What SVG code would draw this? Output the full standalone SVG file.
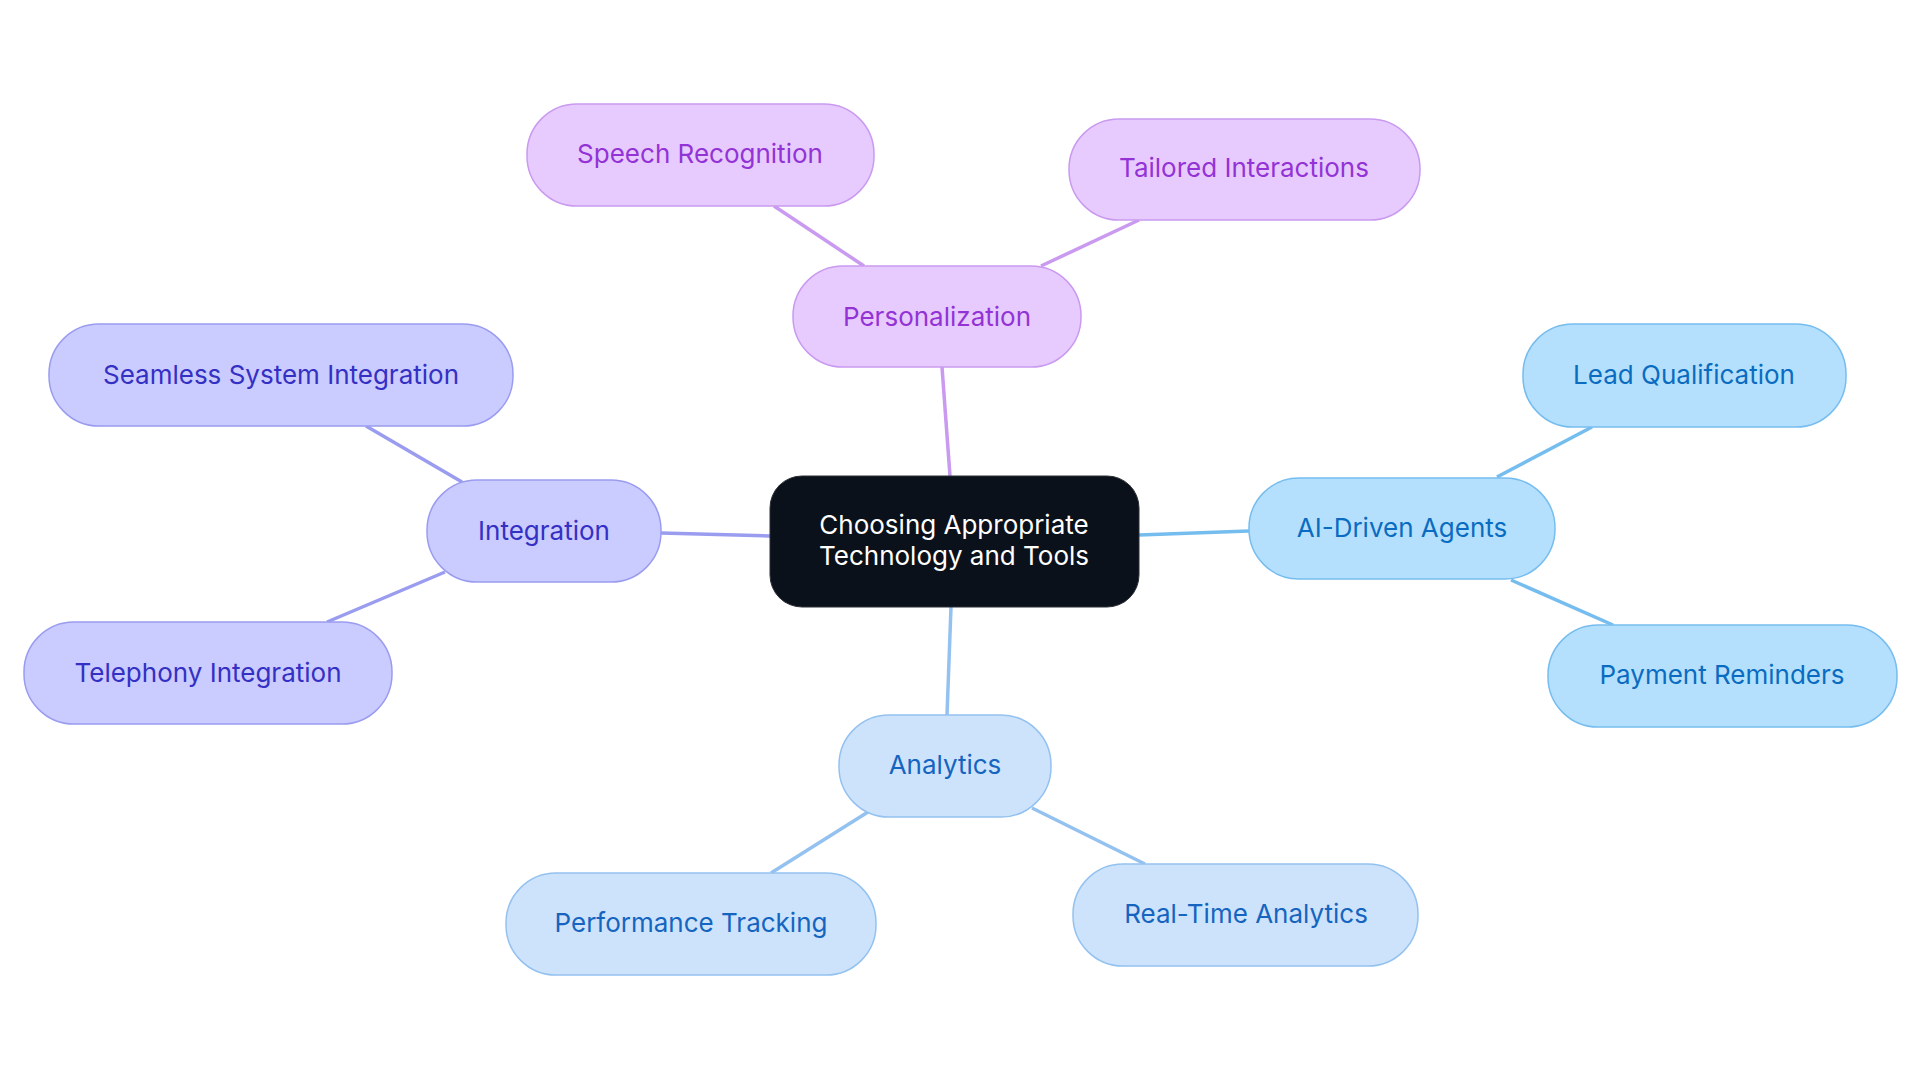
<svg xmlns="http://www.w3.org/2000/svg" width="1920" height="1083" viewBox="0 0 1920 1083">
<style>
text{font-family:Inter,"Noto Sans",sans-serif;font-size:26px;text-anchor:middle;dominant-baseline:central}
.p rect{fill:#E8CBFE;stroke:#C99AF0;stroke-width:1.5}.p text{fill:#9333D6}
.i rect{fill:#CACBFE;stroke:#9A9CF0;stroke-width:1.5}.i text{fill:#3430C4}
.a rect{fill:#B5E0FD;stroke:#76BDEF;stroke-width:1.5}.a text{fill:#0A6CC0}
.n rect{fill:#CDE3FB;stroke:#94C2F0;stroke-width:1.5}.n text{fill:#1565C0}
#connectors line{stroke-width:3.5;fill:none}
</style>
<rect width="1920" height="1083" fill="#fff"/>
<g id="connectors">
<g stroke="#C99AF0"><line x1="950" y1="476" x2="942" y2="367"/><line x1="864" y1="266" x2="774" y2="206"/><line x1="1041" y1="266" x2="1139" y2="220"/></g>
<g stroke="#9A9CF0"><line x1="770" y1="536" x2="661" y2="533"/><line x1="462" y1="482" x2="366" y2="426"/><line x1="445" y1="572" x2="327" y2="622"/></g>
<g stroke="#76BDEF"><line x1="1139" y1="535" x2="1249" y2="531"/><line x1="1497" y1="477" x2="1592" y2="427"/><line x1="1511" y1="580" x2="1613" y2="625"/></g>
<g stroke="#94C2F0"><line x1="951" y1="607" x2="947" y2="715"/><line x1="868" y1="812" x2="771" y2="873"/><line x1="1032" y1="808" x2="1145" y2="864"/></g>
</g>
<g id="center"><rect x="770" y="476" width="369" height="131" rx="32" fill="#0B111A" stroke="#2a2f36"/><text x="954" y="524" fill="#fff">Choosing Appropriate</text><text x="954" y="555" fill="#fff">Technology and Tools</text></g>
<g id="personalization" class="p"><rect x="793" y="266" width="288" height="101" rx="50"/><text x="937" y="316">Personalization</text></g>
<g id="speech" class="p"><rect x="527" y="104" width="347" height="102" rx="50"/><text x="700" y="153">Speech Recognition</text></g>
<g id="tailored" class="p"><rect x="1069" y="119" width="351" height="101" rx="50"/><text x="1244" y="167">Tailored Interactions</text></g>
<g id="integration" class="i"><rect x="427" y="480" width="234" height="102" rx="50"/><text x="544" y="530">Integration</text></g>
<g id="seamless" class="i"><rect x="49" y="324" width="464" height="102" rx="50"/><text x="281" y="374">Seamless System Integration</text></g>
<g id="telephony" class="i"><rect x="24" y="622" width="368" height="102" rx="50"/><text x="208" y="672">Telephony Integration</text></g>
<g id="ai" class="a"><rect x="1249" y="478" width="306" height="101" rx="50"/><text x="1402" y="527">AI-Driven Agents</text></g>
<g id="lead" class="a"><rect x="1523" y="324" width="323" height="103" rx="50"/><text x="1684" y="374">Lead Qualification</text></g>
<g id="payment" class="a"><rect x="1548" y="625" width="349" height="102" rx="50"/><text x="1722" y="674">Payment Reminders</text></g>
<g id="analytics" class="n"><rect x="839" y="715" width="212" height="102" rx="50"/><text x="945" y="764">Analytics</text></g>
<g id="performance" class="n"><rect x="506" y="873" width="370" height="102" rx="50"/><text x="691" y="922">Performance Tracking</text></g>
<g id="realtime" class="n"><rect x="1073" y="864" width="345" height="102" rx="50"/><text x="1246" y="913">Real-Time Analytics</text></g>
</svg>
